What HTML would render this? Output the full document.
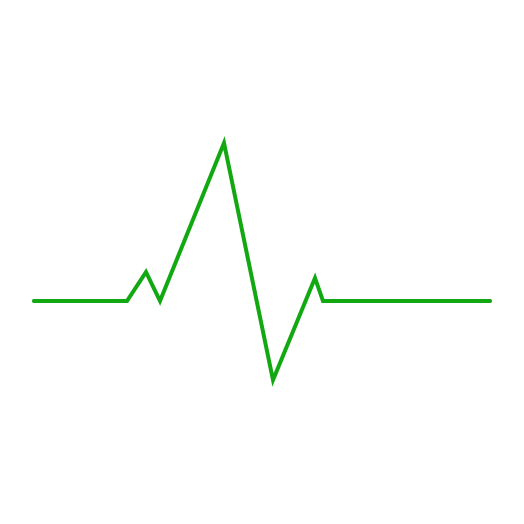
<!DOCTYPE html>
<html>
<head>
<meta charset="utf-8">
<style>
html,body{margin:0;padding:0;background:#fff;width:524px;height:524px;overflow:hidden;}
svg{display:block;}
</style>
</head>
<body>
<svg id="chart" width="524" height="524" viewBox="0 0 524 524" xmlns="http://www.w3.org/2000/svg">
<polyline id="line" fill="none" stroke="#12a812" stroke-width="4" stroke-linejoin="miter" stroke-linecap="round"/>
</svg>
<script>
const xValues = [0, 93, 112, 126, 190, 239, 281, 289, 456];
const yValues = [0, 0, 29, 0, 158, -79, 23, 0, 0];
function xScale(v){ return 34 + v; }
function yScale(v){ return 301 - v; }
const pts = xValues.map((x,i)=>xScale(x)+','+yScale(yValues[i])).join(' ');
document.getElementById('line').setAttribute('points', pts);
</script>
</body>
</html>
